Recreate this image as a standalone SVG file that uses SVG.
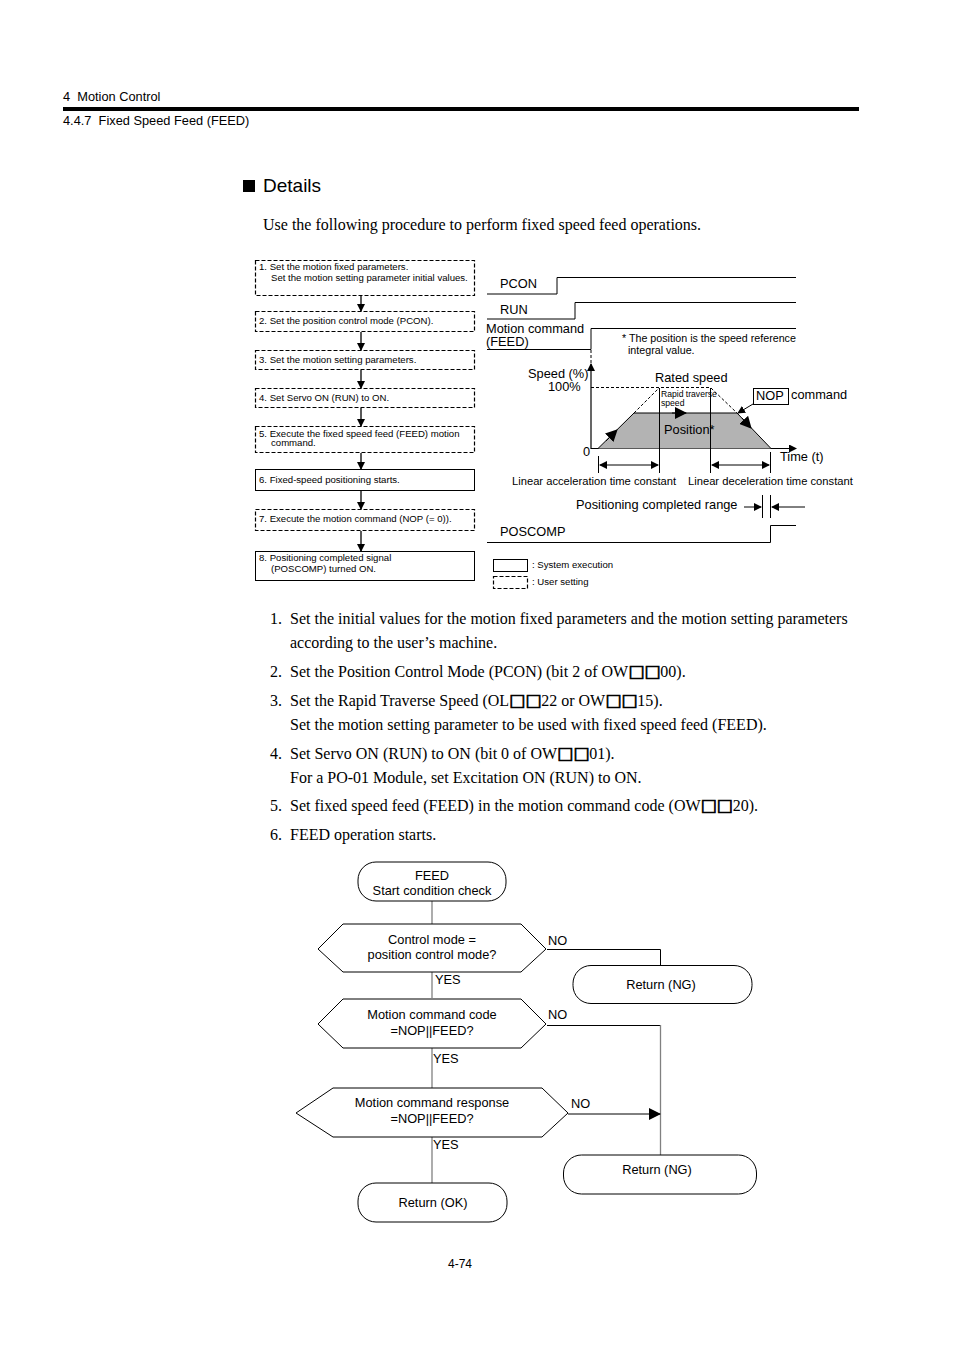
<svg xmlns="http://www.w3.org/2000/svg" width="954" height="1351" viewBox="0 0 954 1351">
<defs>
<style>
.s{font-family:"Liberation Sans",Arial,sans-serif;fill:#000}
.t{font-family:"Liberation Serif","Times New Roman",serif;font-size:16px;fill:#000}
.q{font-family:"DejaVu Sans",sans-serif;font-size:17px;stroke:#000;stroke-width:0.7}
.bx{font-size:9.6px}
.lg{font-size:9.6px}
.f{font-size:12.8px}
.m{text-anchor:middle}
.ud{fill:#fff;stroke:#000;stroke-width:1.2;stroke-dasharray:4,2}
.us{fill:#fff;stroke:#000;stroke-width:1}
.ln{fill:none;stroke:#000;stroke-width:1}
.dl{fill:none;stroke:#000;stroke-width:1;stroke-dasharray:3,2}
.fl{fill:#fff;stroke:#000;stroke-width:1}
.gv{fill:none;stroke:#808080;stroke-width:1.3}
</style>
<marker id="ah" markerWidth="8" markerHeight="8" refX="7" refY="4" orient="auto" markerUnits="userSpaceOnUse"><path d="M0,0 L8,4 L0,8 Z" fill="#000"/></marker>
<marker id="ahL" markerWidth="12" markerHeight="12" refX="11" refY="6" orient="auto" markerUnits="userSpaceOnUse"><path d="M0,0 L12,6 L0,12 Z" fill="#000"/></marker>
</defs>
<rect width="954" height="1351" fill="#fff"/>

<!-- header -->
<text class="s" x="63" y="101" font-size="12.8" xml:space="preserve">4  Motion Control</text>
<rect x="63" y="107" width="796" height="4" fill="#000"/>
<text class="s" x="63" y="125" font-size="12.8" xml:space="preserve">4.4.7  Fixed Speed Feed (FEED)</text>

<rect x="243" y="180" width="12" height="12" fill="#000"/>
<text class="s" x="263" y="192" font-size="19">Details</text>
<text class="t" x="263" y="230">Use the following procedure to perform fixed speed feed operations.</text>

<!-- procedure boxes -->
<g id="step1"><rect class="ud" x="255.5" y="260.5" width="219" height="35"/><text class="s bx" x="259" y="270">1. Set the motion fixed parameters.</text><text class="s bx" x="271" y="281">Set the motion setting parameter initial values.</text></g>
<g id="step2"><rect class="ud" x="255.5" y="311.5" width="219" height="20"/><text class="s bx" x="259" y="324">2. Set the position control mode (PCON).</text></g>
<g id="step3"><rect class="ud" x="255.5" y="350.5" width="219" height="19"/><text class="s bx" x="259" y="363">3. Set the motion setting parameters.</text></g>
<g id="step4"><rect class="ud" x="255.5" y="388.5" width="219" height="19"/><text class="s bx" x="259" y="401">4. Set Servo ON (RUN) to ON.</text></g>
<g id="step5"><rect class="ud" x="255.5" y="426.5" width="219" height="26"/><text class="s bx" x="259" y="437">5. Execute the fixed speed feed (FEED) motion</text><text class="s bx" x="271" y="446">command.</text></g>
<g id="step6"><rect class="us" x="255.5" y="469.5" width="219" height="21"/><text class="s bx" x="259" y="483">6. Fixed-speed positioning starts.</text></g>
<g id="step7"><rect class="ud" x="255.5" y="509.5" width="219" height="21"/><text class="s bx" x="259" y="522">7. Execute the motion command (NOP (= 0)).</text></g>
<g id="step8"><rect class="us" x="255.5" y="551.5" width="219" height="29"/><text class="s bx" x="259" y="561">8. Positioning completed signal</text><text class="s bx" x="271" y="572">(POSCOMP) turned ON.</text></g>

<g id="step-connectors" stroke="#000" stroke-width="1.3">
<line x1="361" y1="296" x2="361" y2="311" marker-end="url(#ah)"/>
<line x1="361" y1="332" x2="361" y2="350" marker-end="url(#ah)"/>
<line x1="361" y1="370" x2="361" y2="388" marker-end="url(#ah)"/>
<line x1="361" y1="408" x2="361" y2="426" marker-end="url(#ah)"/>
<line x1="361" y1="453" x2="361" y2="469" marker-end="url(#ah)"/>
<line x1="361" y1="491" x2="361" y2="509" marker-end="url(#ah)"/>
<line x1="361" y1="531" x2="361" y2="551" marker-end="url(#ah)"/>
</g>

<!-- timing chart -->
<g id="timing">
<text class="s f" x="500" y="288">PCON</text>
<polyline class="ln" points="487,294 557,294 557,277.5 796,277.5"/>
<text class="s f" x="500" y="314">RUN</text>
<polyline class="ln" points="487,319 575,319 575,302.5 796,302.5"/>
<text class="s f" x="486" y="333">Motion command</text>
<text class="s f" x="486" y="346">(FEED)</text>
<polyline class="ln" points="487,349.5 591,349.5 591,328.5 796,328.5"/>
<text class="s" x="622" y="342" font-size="10.7">* The position is the speed reference</text>
<text class="s" x="628" y="354" font-size="10.7">integral value.</text>

<line class="dl" x1="591" y1="350" x2="591" y2="366"/>
<line x1="591" y1="449" x2="591" y2="364" stroke="#000" stroke-width="1.2" marker-end="url(#ah)"/>
<line x1="591" y1="448.5" x2="796" y2="448.5" stroke="#000" stroke-width="1.2" marker-end="url(#ah)"/>
<text class="s f" x="528" y="378">Speed (%)</text>
<text class="s f" x="548" y="391">100%</text>
<text class="s f" x="583" y="456">0</text>
<text class="s f" x="780" y="461">Time (t)</text>
<text class="s f" x="655" y="382">Rated speed</text>

<line class="dl" x1="591" y1="387.5" x2="710" y2="387.5"/>
<line class="dl" x1="634" y1="413" x2="659" y2="388"/>
<line class="dl" x1="711" y1="388" x2="737" y2="413"/>
<polygon points="598,448.5 634,413 737,413 771,448.5" fill="#b3b3b3" stroke="none"/>
<polyline class="ln" points="598,448.5 634,413 737,413 771,448.5" stroke-width="1.5"/>
<line x1="606" y1="441" x2="617" y2="430" stroke="#000" stroke-width="1" marker-end="url(#ahL)"/>
<line x1="672" y1="413" x2="686" y2="413" stroke="#000" stroke-width="1" marker-end="url(#ahL)"/>
<line x1="742" y1="418" x2="751" y2="428" stroke="#000" stroke-width="1" marker-end="url(#ahL)"/>
<text class="s f" x="664" y="434">Position*</text>

<line class="ln" x1="659.5" y1="388" x2="659.5" y2="473"/>
<line class="ln" x1="710.5" y1="388" x2="710.5" y2="473"/>
<line class="ln" x1="598.5" y1="456" x2="598.5" y2="473"/>
<line class="ln" x1="770.5" y1="452" x2="770.5" y2="473"/>
<text class="s" x="661" y="397" font-size="8.6">Rapid traverse</text>
<text class="s" x="661" y="406" font-size="8.6">speed</text>

<rect class="us" x="753.5" y="388.5" width="35" height="16"/>
<text class="s f" x="756" y="400">NOP</text>
<text class="s f" x="791" y="399">command</text>
<line x1="753" y1="404" x2="738" y2="413" stroke="#000" stroke-width="1" marker-end="url(#ah)"/>

<line x1="629" y1="465" x2="600" y2="465" stroke="#000" stroke-width="1" marker-end="url(#ah)"/>
<line x1="629" y1="465" x2="658" y2="465" stroke="#000" stroke-width="1" marker-end="url(#ah)"/>
<line x1="740" y1="465" x2="712" y2="465" stroke="#000" stroke-width="1" marker-end="url(#ah)"/>
<line x1="740" y1="465" x2="769" y2="465" stroke="#000" stroke-width="1" marker-end="url(#ah)"/>
<text class="s" x="512" y="485" font-size="11.2">Linear acceleration time constant</text>
<text class="s" x="688" y="485" font-size="11.2">Linear deceleration time constant</text>

<text class="s f" x="576" y="509">Positioning completed range</text>
<line x1="744" y1="507" x2="761" y2="507" stroke="#000" stroke-width="1" marker-end="url(#ah)"/>
<line class="ln" x1="762.5" y1="495" x2="762.5" y2="518"/>
<line class="ln" x1="770.5" y1="495" x2="770.5" y2="518"/>
<line x1="805" y1="507" x2="772" y2="507" stroke="#000" stroke-width="1" marker-end="url(#ah)"/>

<text class="s f" x="500" y="536">POSCOMP</text>
<polyline class="ln" points="487,542.5 770.5,542.5 770.5,525.5 796,525.5"/>

<rect class="us" x="493.5" y="559.5" width="34" height="12"/>
<text class="s lg" x="532" y="568">: System execution</text>
<rect class="ud" x="493.5" y="576.5" width="34" height="12"/>
<text class="s lg" x="532" y="585">: User setting</text>
</g>

<!-- numbered list -->
<g id="list">
<text class="t" x="270" y="624">1.</text><text class="t" x="290" y="624">Set the initial values for the motion fixed parameters and the motion setting parameters</text>
<text class="t" x="290" y="648">according to the user’s machine.</text>
<text class="t" x="270" y="677">2.</text><text class="t" x="290" y="677">Set the Position Control Mode (PCON) (bit 2 of OW<tspan class="q">□□</tspan>00).</text>
<text class="t" x="270" y="706">3.</text><text class="t" x="290" y="706">Set the Rapid Traverse Speed (OL<tspan class="q">□□</tspan>22 or OW<tspan class="q">□□</tspan>15).</text>
<text class="t" x="290" y="730">Set the motion setting parameter to be used with fixed speed feed (FEED).</text>
<text class="t" x="270" y="759">4.</text><text class="t" x="290" y="759">Set Servo ON (RUN) to ON (bit 0 of OW<tspan class="q">□□</tspan>01).</text>
<text class="t" x="290" y="783">For a PO-01 Module, set Excitation ON (RUN) to ON.</text>
<text class="t" x="270" y="811">5.</text><text class="t" x="290" y="811">Set fixed speed feed (FEED) in the motion command code (OW<tspan class="q">□□</tspan>20).</text>
<text class="t" x="270" y="840">6.</text><text class="t" x="290" y="840">FEED operation starts.</text>
</g>

<!-- flowchart -->
<g id="flow-connectors">
<line class="gv" x1="432" y1="901" x2="432" y2="924"/>
<line class="gv" x1="432" y1="972" x2="432" y2="998"/>
<line class="gv" x1="432" y1="1048" x2="432" y2="1088"/>
<line class="gv" x1="432" y1="1137" x2="432" y2="1183"/>
<polyline class="ln" points="547,949.5 660.5,949.5 660.5,965"/>
<polyline class="ln" points="547,1025.5 660.5,1025.5"/>
<line class="gv" x1="660.5" y1="1025" x2="660.5" y2="1155" stroke="#555"/>
<line x1="568" y1="1114" x2="660" y2="1114" stroke="#000" stroke-width="1" marker-end="url(#ahL)"/>
<text class="s f" x="548" y="945">NO</text>
<text class="s f" x="435" y="984">YES</text>
<text class="s f" x="548" y="1019">NO</text>
<text class="s f" x="433" y="1063">YES</text>
<text class="s f" x="571" y="1108">NO</text>
<text class="s f" x="433" y="1149">YES</text>
</g>
<g id="start"><rect class="fl" x="358" y="862" width="148" height="39" rx="18"/><text class="s f m" x="432" y="880">FEED</text><text class="s f m" x="432" y="895">Start condition check</text></g>
<g id="dec1"><polygon class="fl" points="318,949 343,924 521,924 546,949 521,972 343,972"/><text class="s f m" x="432" y="944">Control mode =</text><text class="s f m" x="432" y="959">position control mode?</text></g>
<g id="ng1"><rect class="fl" x="573" y="965.5" width="179" height="38" rx="18"/><text class="s f m" x="661" y="989">Return (NG)</text></g>
<g id="dec2"><polygon class="fl" points="318,1024 343,999 521,999 546,1024 521,1048 343,1048"/><text class="s f m" x="432" y="1019">Motion command code</text><text class="s f m" x="432" y="1035">=NOP||FEED?</text></g>
<g id="dec3"><polygon class="fl" points="296,1113 333,1088 542,1088 568,1113 542,1137 333,1137"/><text class="s f m" x="432" y="1107">Motion command response</text><text class="s f m" x="432" y="1123">=NOP||FEED?</text></g>
<g id="ng2"><rect class="fl" x="563.5" y="1155" width="193" height="39" rx="18"/><text class="s f m" x="657" y="1174">Return (NG)</text></g>
<g id="ok"><rect class="fl" x="358" y="1183" width="149" height="39" rx="18"/><text class="s f m" x="433" y="1207">Return (OK)</text></g>

<text class="s m" x="460" y="1268" font-size="12">4-74</text>
</svg>
